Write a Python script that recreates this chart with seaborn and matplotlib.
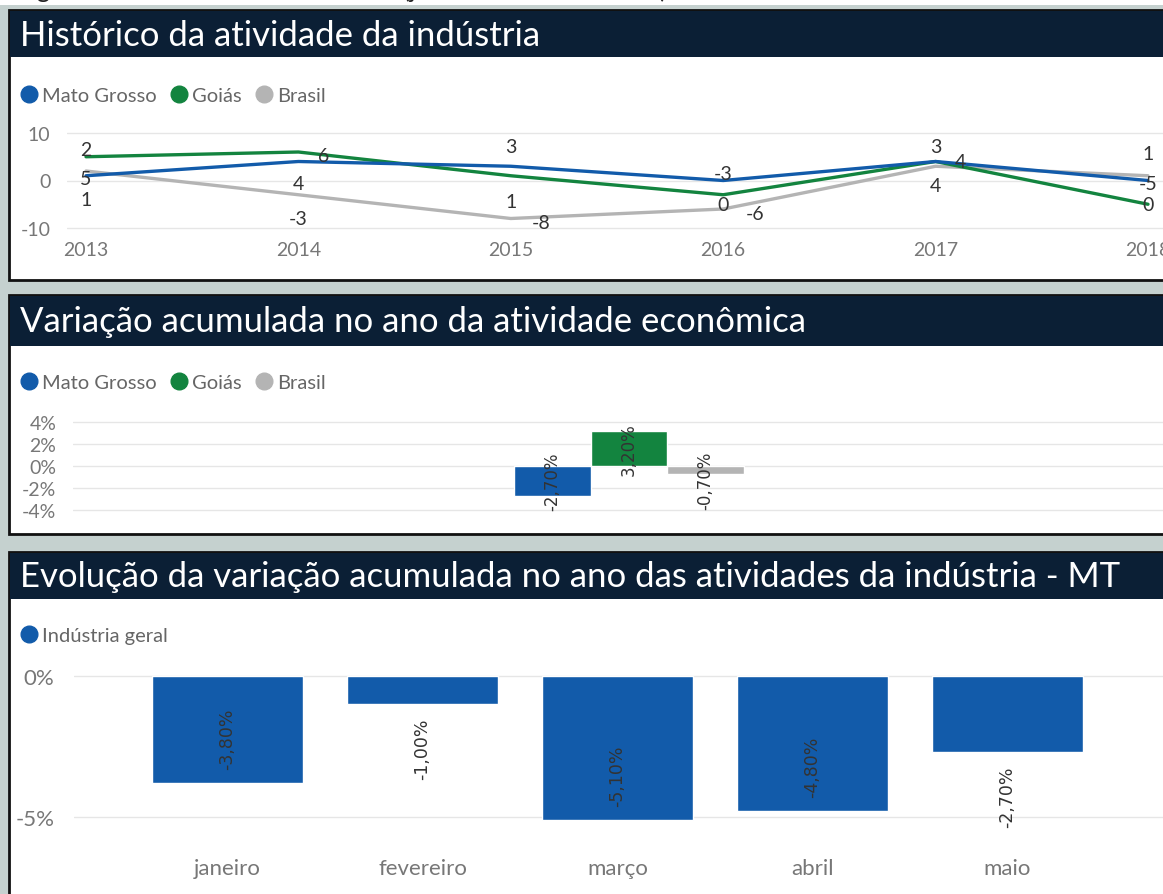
import numpy as np
import pandas as pd
import matplotlib
matplotlib.use('Agg')
import matplotlib.pyplot as plt
from matplotlib.patches import Rectangle
from matplotlib.lines import Line2D
import seaborn as sns

# ── Dados ────────────────────────────────────────────────────────────────────
anos = [2013, 2014, 2015, 2016, 2017, 2018]
mato_grosso = [1, 4, 3, 0, 4, 0]
goias = [5, 6, 1, -3, 4, -5]
brasil = [2, -3, -8, -6, 3, 1]

regioes = ['Mato Grosso', 'Goiás', 'Brasil']
var_acumulada = [-2.7, 3.2, -0.7]

meses = ['janeiro', 'fevereiro', 'março', 'abril', 'maio']
industria_geral = [-3.8, -1.0, -5.1, -4.8, -2.7]

# ── Estilo ───────────────────────────────────────────────────────────────────
sns.set_style('white')
plt.rcParams['font.family'] = ['Lato', 'DejaVu Sans']
plt.rcParams['axes.unicode_minus'] = False

W, H = 1163, 895
cores = {'Mato Grosso': '#125BAA', 'Goiás': '#13843F', 'Brasil': '#B4B4B4'}
fundo = '#C5D1CF'
barra_titulo = '#0B1F35'
cinza_txt = '#777777'
fonte_eixo = ['Lato', 'DejaVu Sans']

# deslocamento (px) dos rótulos no gráfico de linhas, como o Power BI posicionou
rot_offset = {
    'Mato Grosso': [(0, -24), (0, -22), (0, 20), (0, -24), (0, -24), (0, -24)],
    'Goiás':       [(0, -22), (25, -4), (0, -26), (0, 21), (25, 0), (0, 21)],
    'Brasil':      [(0, 22), (0, -24), (30, -4), (32, -4), (0, 20), (0, 22)],
}

fig = plt.figure(figsize=(W / 100, H / 100), dpi=100)
fig.patch.set_facecolor(fundo)


def caixa(x0, y0, x1, y1):
    return [x0 / W, 1 - y1 / H, (x1 - x0) / W, (y1 - y0) / H]


def retangulo(x0, y0, x1, y1, fc, ec='none', lw=0, z=-5):
    fig.add_artist(Rectangle((x0 / W, 1 - y1 / H), (x1 - x0) / W, (y1 - y0) / H,
                             transform=fig.transFigure, facecolor=fc,
                             edgecolor=ec, linewidth=lw, zorder=z))


def painel(y0, y1, yt, titulo):
    retangulo(9, y0, 1180, y1, 'white', ec='#111111', lw=2)
    retangulo(10, y0 + 1, 1180, yt, barra_titulo, z=-4)
    fig.text(20 / W, 1 - ((y0 + yt) / 2 + 1) / H, titulo, color='white',
             fontsize=25, va='center', ha='left')


def legenda(ax, nomes, y):
    handles = [Line2D([], [], marker='o', ls='', color=cores[n], ms=12) for n in nomes]
    ax.legend(handles, nomes, loc='center left', ncol=len(nomes), frameon=False,
              bbox_to_anchor=(19 / W, 1 - y / H), bbox_transform=fig.transFigure,
              handletextpad=0.15, columnspacing=0.6, handlelength=1.0,
              borderaxespad=0, borderpad=0, labelcolor='#666666', fontsize=14.5)


# faixa superior (legenda da figura cortada)
retangulo(0, 0, W, 6, 'white', z=-6)
fig.text(18 / W, 1 + 2 / H, 'Figura', fontsize=18, va='baseline', color='#222222')
fig.text(403 / W, 1 + 2 / H, '(janeiro a maio de 2019)', fontsize=18,
         va='baseline', color='#222222')

painel(11, 281, 58, 'Histórico da atividade da indústria')
painel(296, 535, 347, 'Variação acumulada no ano da atividade econômica')
painel(553, 905, 600, 'Evolução da variação acumulada no ano das atividades da indústria - MT')

# ── Painel 1: linhas ─────────────────────────────────────────────────────────
df_linhas = pd.DataFrame({
    'Ano': anos * 3,
    'Valor': mato_grosso + goias + brasil,
    'Local': ['Mato Grosso'] * 6 + ['Goiás'] * 6 + ['Brasil'] * 6,
})
ax1 = fig.add_axes(caixa(67, 125, W, 235))
sns.lineplot(data=df_linhas, x='Ano', y='Valor', hue='Local',
             hue_order=['Brasil', 'Goiás', 'Mato Grosso'], palette=cores,
             linewidth=2.4, legend=False, ax=ax1)
ax1.set_xlim(2013 - 19 / 212.4, 2018 + 15 / 212.4)
ax1.set_ylim(-10 - 6 / 4.75, 10 + 9 / 4.75)
ax1.set_yticks([-10, 0, 10])
ax1.set_xticks(anos)
ax1.grid(axis='y', color='#E6E6E6', linewidth=1)
ax1.set_axisbelow(True)
ax1.set_xlabel('')
ax1.set_ylabel('')
ax1.tick_params(length=0, colors=cinza_txt, labelsize=14)
ax1.tick_params(axis='x', pad=5)
ax1.tick_params(axis='y', pad=12)
for lab in ax1.get_xticklabels() + ax1.get_yticklabels():
    lab.set_family(fonte_eixo)
sns.despine(ax=ax1, left=True, bottom=True)
for nome, serie in zip(regioes, [mato_grosso, goias, brasil]):
    for ano, v, (dx, dy) in zip(anos, serie, rot_offset[nome]):
        ax1.annotate(f'{v}', (ano, v), xytext=(dx, dy), textcoords='offset pixels',
                     ha='center', va='center', fontsize=14, color='#333333',
                     family=fonte_eixo)
legenda(ax1, regioes, 96)

# ── Painel 2: barras agrupadas ───────────────────────────────────────────────
df_var = pd.DataFrame({'Grupo': [''] * 3, 'Local': regioes, 'Variação': var_acumulada})
ax2 = fig.add_axes(caixa(73, 415, W, 518))
sns.barplot(data=df_var, x='Grupo', y='Variação', hue='Local', hue_order=regioes,
            palette=cores, width=0.8, saturation=1, legend=False, ax=ax2)
ax2.set_xlim(-(629 - 73) / 287.5, (W - 629) / 287.5)
ax2.set_ylim(-4 - 7 / 11, 4 + 8 / 11)
ax2.set_yticks([-4, -2, 0, 2, 4])
ax2.set_yticklabels([f'{t}%' for t in [-4, -2, 0, 2, 4]])
ax2.set_xticks([])
ax2.grid(axis='y', color='#E6E6E6', linewidth=1)
ax2.set_axisbelow(True)
ax2.set_xlabel('')
ax2.set_ylabel('')
ax2.tick_params(length=0, colors=cinza_txt, labelsize=14, pad=12)
for lab in ax2.get_yticklabels():
    lab.set_family(fonte_eixo)
sns.despine(ax=ax2, left=True, bottom=True)
for barra, v in zip(ax2.patches, var_acumulada):
    xc = barra.get_x() + barra.get_width() / 2
    dy = -10 if abs(v) < 1 else 0
    ax2.annotate(f'{v:.2f}%'.replace('.', ','), (xc, v / 2), xytext=(0, dy),
                 textcoords='offset pixels', rotation=90, ha='center', va='center',
                 fontsize=12, color='#333333', family='DejaVu Sans')
legenda(ax2, regioes, 383)

# ── Painel 3: barras por mês ─────────────────────────────────────────────────
df_mes = pd.DataFrame({'Mês': meses, 'Indústria geral': industria_geral})
ax3 = fig.add_axes(caixa(74, 665, W, 835))
sns.barplot(data=df_mes, x='Mês', y='Indústria geral', color=cores['Mato Grosso'],
            width=0.775, saturation=1, ax=ax3)
ax3.set_xlim(-(227.5 - 74) / 195, (W - 227.5) / 195)
ax3.set_ylim(-5 - 17 / 28.2, 12 / 28.2)
ax3.set_yticks([-5, 0])
ax3.set_yticklabels(['-5%', '0%'])
ax3.grid(axis='y', color='#E6E6E6', linewidth=1)
ax3.set_axisbelow(True)
ax3.set_xlabel('')
ax3.set_ylabel('')
ax3.tick_params(length=0, colors=cinza_txt, labelsize=16)
ax3.tick_params(axis='x', pad=17)
ax3.tick_params(axis='y', pad=14)
for lab in ax3.get_xticklabels() + ax3.get_yticklabels():
    lab.set_family(fonte_eixo)
sns.despine(ax=ax3, left=True, bottom=True)
for barra, v in zip(ax3.patches, industria_geral):
    xc = barra.get_x() + barra.get_width() / 2
    dentro = abs(v) > 3
    ax3.annotate(f'{v:.2f}%'.replace('.', ','), (xc, v),
                 xytext=(0, 14 if dentro else -13), textcoords='offset pixels',
                 rotation=90, ha='center', va='bottom' if dentro else 'top',
                 fontsize=12.5, color='#333333', family='DejaVu Sans')
handles = [Line2D([], [], marker='o', ls='', color=cores['Mato Grosso'], ms=12)]
ax3.legend(handles, ['Indústria geral'], loc='center left', frameon=False,
           bbox_to_anchor=(19 / W, 1 - 636 / H), bbox_transform=fig.transFigure,
           handletextpad=0.15, handlelength=1.0, borderaxespad=0, borderpad=0,
           labelcolor='#666666', fontsize=14.5)

fig.savefig('out.png', dpi=100, facecolor=fig.get_facecolor())
